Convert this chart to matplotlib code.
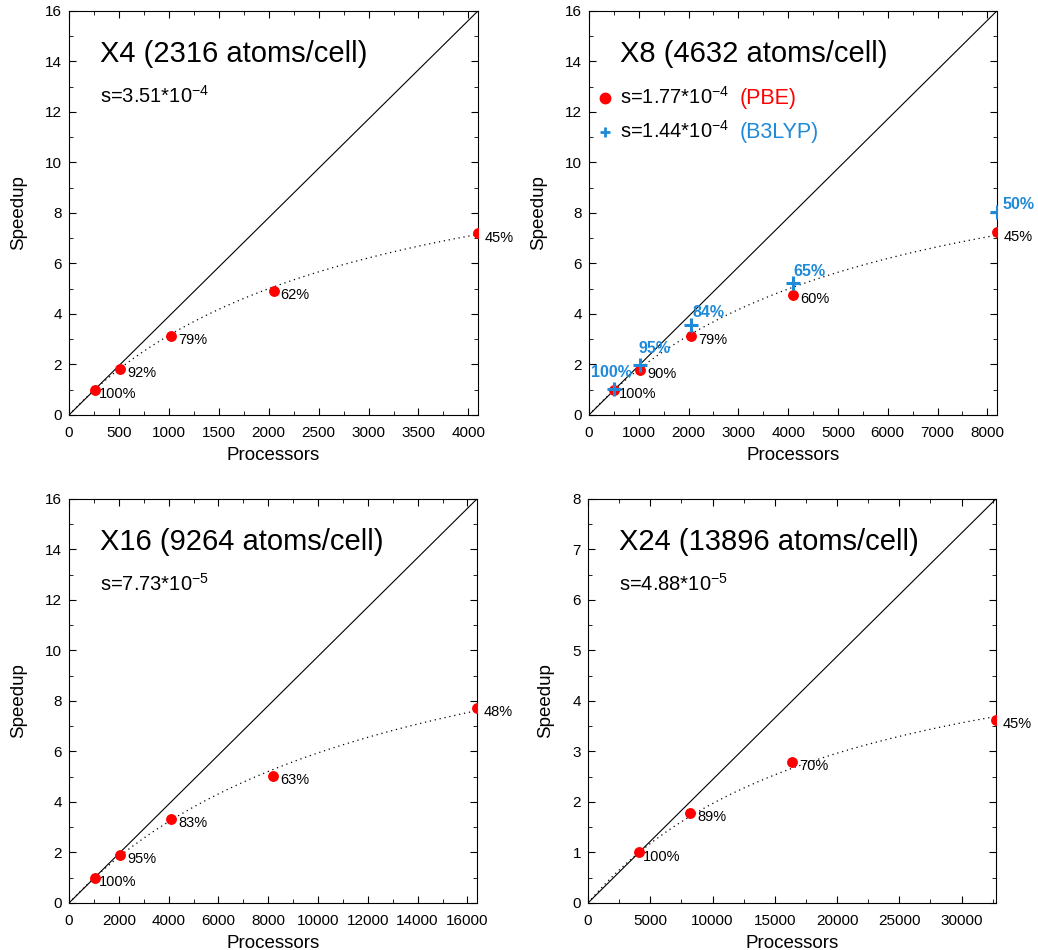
import numpy as np
import matplotlib
matplotlib.use("Agg")
import matplotlib.pyplot as plt
from matplotlib.ticker import MultipleLocator

plt.rcParams['font.family'] = ['Liberation Sans', 'DejaVu Sans']
plt.rcParams['mathtext.default'] = 'regular'

# X4 (2316 atoms/cell)
x4_procs = [256, 512, 1024, 2048, 4096]
x4_speedup = [1.0, 1.81, 3.13, 4.91, 7.19]
x4_eff = ['100%', '92%', '79%', '62%', '45%']
x4_s = 3.51e-4

# X8 (4632 atoms/cell), PBE and B3LYP
x8_procs = [512, 1024, 2048, 4096, 8192]
x8_pbe = [1.0, 1.78, 3.13, 4.77, 7.23]
x8_pbe_eff = ['100%', '90%', '79%', '60%', '45%']
x8_b3 = [1.02, 1.98, 3.57, 5.24, 8.05]
x8_b3_eff = ['100%', '95%', '84%', '65%', '50%']
x8_s_pbe = 1.77e-4
x8_s_b3 = 1.44e-4

# X16 (9264 atoms/cell)
x16_procs = [1024, 2048, 4096, 8192, 16384]
x16_speedup = [0.99, 1.9, 3.32, 5.04, 7.73]
x16_eff = ['100%', '95%', '83%', '63%', '48%']
x16_s = 7.73e-5

# X24 (13896 atoms/cell)
x24_procs = [4096, 8192, 16384, 32768]
x24_speedup = [1.0, 1.79, 2.8, 3.63]
x24_eff = ['100%', '89%', '70%', '45%']
x24_s = 4.88e-5

RED = '#ff0000'
BLUE = '#1f8ad8'


# Amdahl fit relative to the smallest run, s is the serial fraction
def amdahl(p, s, p0):
    return (s + (1 - s) / p0) / (s + (1 - s) / p)


def setup(ax, xmax, ymax, xmaj, xmin, ymaj, ymin):
    ax.set_xlim(0, xmax)
    ax.set_ylim(0, ymax)
    ax.xaxis.set_major_locator(MultipleLocator(xmaj))
    ax.xaxis.set_minor_locator(MultipleLocator(xmin))
    ax.yaxis.set_major_locator(MultipleLocator(ymaj))
    ax.yaxis.set_minor_locator(MultipleLocator(ymin))
    ax.tick_params(which='both', direction='in', top=True, right=True, labelsize=11)
    ax.tick_params(which='major', length=5)
    ax.tick_params(which='minor', length=3)
    ax.tick_params(axis='x', pad=8)
    ax.tick_params(axis='y', pad=5)
    ax.set_xlabel('Processors', fontsize=13.5, labelpad=5)
    ax.set_ylabel('Speedup', fontsize=13.5, labelpad=13)
    # ideal speedup
    ax.plot([0, xmax], [0, ymax], color='black', lw=0.8)


def panel(ax, procs, speed, eff, s, xmax, ymax, xmaj, xmin, ymaj, ymin, title, stext):
    setup(ax, xmax, ymax, xmaj, xmin, ymaj, ymin)
    p = np.linspace(1, xmax, 400)
    ax.plot(p, amdahl(p, s, procs[0]), color='black', lw=0.9, ls=(0, (1, 3)))
    ax.plot(procs, speed, 'o', color=RED, ms=6.8, zorder=5)
    for i, (x, y, t) in enumerate(zip(procs, speed, eff)):
        off = (3, -3) if i == 0 else (5, -3)
        ax.annotate(t, (x, y), xytext=off, textcoords='offset points',
                    ha='left', va='center', fontsize=10.5)
    ax.text(0.076, 0.874, title, transform=ax.transAxes, fontsize=21)
    if stext:
        ax.text(0.076, 0.772, stext, transform=ax.transAxes, fontsize=14.5)


fig = plt.figure(figsize=(10.38, 9.5), dpi=100)
ax1 = fig.add_axes([0.0665, 0.5632, 0.394, 0.4253])
ax2 = fig.add_axes([0.5674, 0.5632, 0.393, 0.4253])
ax3 = fig.add_axes([0.0665, 0.0495, 0.393, 0.4253])
ax4 = fig.add_axes([0.5665, 0.0495, 0.393, 0.4253])

panel(ax1, x4_procs, x4_speedup, x4_eff, x4_s, 4096, 16, 500, 250, 2, 1,
      'X4 (2316 atoms/cell)', 's=3.51*10$^{-4}$')
panel(ax2, x8_procs, x8_pbe, x8_pbe_eff, x8_s_pbe, 8192, 16, 1000, 500, 2, 1,
      'X8 (4632 atoms/cell)', None)
panel(ax3, x16_procs, x16_speedup, x16_eff, x16_s, 16384, 16, 2000, 1000, 2, 1,
      'X16 (9264 atoms/cell)', 's=7.73*10$^{-5}$')
panel(ax4, x24_procs, x24_speedup, x24_eff, x24_s, 32768, 8, 5000, 2500, 1, 0.5,
      'X24 (13896 atoms/cell)', 's=4.88*10$^{-5}$')

# B3LYP points on the X8 panel
ax2.plot(x8_procs, x8_b3, '+', color=BLUE, ms=10, mew=2.2, zorder=6)
b3_offsets = [(-2, 12), (-1, 12), (1, 9), (0, 8), (4, 5)]
b3_ha = ['center', 'left', 'left', 'left', 'left']
for x, y, t, off, ha in zip(x8_procs, x8_b3, x8_b3_eff, b3_offsets, b3_ha):
    ax2.annotate(t, (x, y), xytext=off, textcoords='offset points', ha=ha,
                 va='center', fontsize=11.5, fontweight='bold', color=BLUE)

# legend-like annotations on X8
ax2.plot([0.04], [0.785], 'o', color=RED, ms=7.5, transform=ax2.transAxes, clip_on=False)
ax2.text(0.076, 0.77, 's=1.77*10$^{-4}$', transform=ax2.transAxes, fontsize=14.5)
ax2.text(0.37, 0.77, '(PBE)', transform=ax2.transAxes, fontsize=15.5, color=RED)
ax2.plot([0.04], [0.70], '+', color=BLUE, ms=7, mew=2, transform=ax2.transAxes, clip_on=False)
ax2.text(0.076, 0.685, 's=1.44*10$^{-4}$', transform=ax2.transAxes, fontsize=14.5)
ax2.text(0.37, 0.685, '(B3LYP)', transform=ax2.transAxes, fontsize=15.5, color=BLUE)

fig.savefig('out.png', dpi=100)
